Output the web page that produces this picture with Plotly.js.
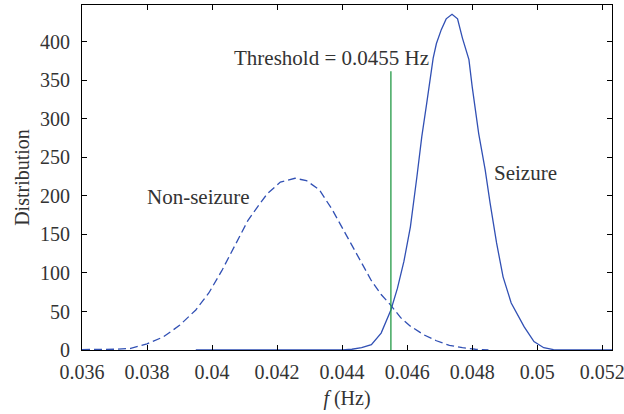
<!DOCTYPE html>
<html>
<head>
<meta charset="utf-8">
<script src="https://cdn.plot.ly/plotly-3.0.1.min.js"></script>
<style>html,body{margin:0;padding:0;background:#fff;}#chart{width:624px;height:414px;}</style>
</head>
<body>
<div id="chart"></div>
<script>
// Non-seizure distribution (dashed)
const nonSeizureF = [0.0360,0.0365,0.0370,0.0375,0.0380,0.0385,0.0390,0.0395,0.0399,0.0403,0.0407,0.0411,0.0414,0.0417,0.0421,0.04255,0.0429,0.0433,0.0437,0.0441,0.04455,0.0449,0.0452,0.0455,0.0458,0.0461,0.0465,0.0469,0.0473,0.0477,0.0481,0.0485];
const nonSeizureD = [0.5,0.5,1,2,8,17,32,52,74,103,136,168,186,203,218,223,220,208,182,152,117,90,72,58,42,31,20,12,6,3,1,0];
// Seizure distribution (solid)
const seizureF = [0.0395,0.0440,0.0443,0.0446,0.0449,0.0452,0.0455,0.0457,0.0459,0.0461,0.0463,0.04645,0.0466,0.0467,0.0468,0.0469,0.04705,0.0472,0.04738,0.04755,0.0477,0.0479,0.0480,0.0482,0.0484,0.04855,0.04875,0.04895,0.0492,0.0496,0.0499,0.0502,0.0505,0.0523];
const seizureD = [0,0,1,3,7,22,52,80,115,160,225,277,320,351,379,398,416,430,436,430,405,377,342,281,234,191,139,95,61,30,11,3,0.5,0];
// Threshold
const thresholdF = [0.0455,0.0455];
const thresholdD = [0,362];
// Ticks
const xTickVals = [0.036,0.038,0.04,0.042,0.044,0.046,0.048,0.05,0.052];
const xTickText = ["0.036","0.038","0.04","0.042","0.044","0.046","0.048","0.05","0.052"];
const yTickVals = [0,50,100,150,200,250,300,350,400];

const blue = "#3150b4";
const font = "Liberation Serif, Times New Roman, serif";
const txt = "#333333";

const traces = [
  {x: nonSeizureF, y: nonSeizureD, mode: "lines", line: {color: blue, width: 1.3, dash: "8px,4px"}, hoverinfo: "skip"},
  {x: seizureF, y: seizureD, mode: "lines", line: {color: blue, width: 1.3}, hoverinfo: "skip"},
  {x: thresholdF, y: thresholdD, mode: "lines", line: {color: "#229944", width: 1.3}, hoverinfo: "skip"}
];

const layout = {
  width: 624, height: 414,
  margin: {l: 82, r: 12, t: 5, b: 64},
  showlegend: false,
  paper_bgcolor: "#fff", plot_bgcolor: "#fff",
  font: {family: font, size: 20, color: txt},
  xaxis: {
    range: [0.036, 0.0523],
    tickvals: xTickVals, ticktext: xTickText,
    ticks: "inside", ticklen: 5, tickcolor: "#000",
    showline: true, linecolor: "#000", linewidth: 1, mirror: "ticks",
    showgrid: false, zeroline: false,
    tickfont: {family: font, size: 20, color: txt},
    ticklabelstandoff: 4,
    ticklabeloverflow: "allow",
    title: {text: "<i>f</i> (Hz)", font: {family: font, size: 20, color: txt}, standoff: 8}
  },
  yaxis: {
    range: [0, 448],
    tickvals: yTickVals,
    ticks: "inside", ticklen: 5, tickcolor: "#000",
    showline: true, linecolor: "#000", linewidth: 1, mirror: "ticks",
    showgrid: false, zeroline: false,
    tickfont: {family: font, size: 20, color: txt},
    ticklabelstandoff: 7,
    title: {text: "Distribution", font: {family: font, size: 20, color: txt}, standoff: 5}
  },
  annotations: [
    {x: 0.04366, y: 379, xref: "x", yref: "y", text: "Threshold = 0.0455 Hz", showarrow: false, font: {family: font, size: 21, color: txt}},
    {x: 0.03959, y: 199, xref: "x", yref: "y", text: "Non-seizure", showarrow: false, font: {family: font, size: 21, color: txt}},
    {x: 0.04964, y: 230, xref: "x", yref: "y", text: "Seizure", showarrow: false, font: {family: font, size: 21, color: txt}}
  ]
};

Plotly.newPlot("chart", traces, layout, {staticPlot: true, displayModeBar: false});
</script>
</body>
</html>
